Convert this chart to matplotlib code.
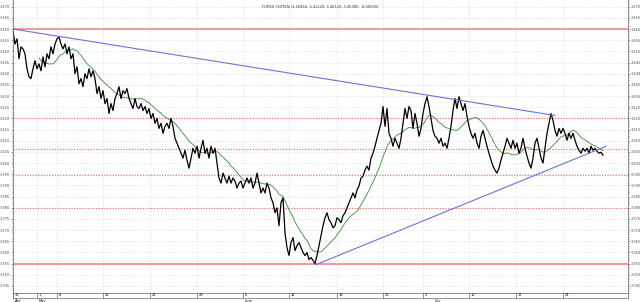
import numpy as np
import pandas as pd
import matplotlib
matplotlib.use('Agg')
import matplotlib.pyplot as plt
from matplotlib.ticker import MultipleLocator

# close prices, one bar per 2 px of the original chart
close = [
    3.459, 3.4533, 3.4556, 3.4467, 3.452, 3.4511, 3.4489, 3.4422, 3.4386, 3.4378,
    3.4422, 3.4458, 3.4422, 3.4444, 3.4413, 3.4475, 3.4431, 3.4489, 3.4467, 3.452,
    3.4489, 3.4533, 3.4556, 3.4564, 3.4533, 3.4511, 3.4533, 3.4489, 3.452, 3.4467,
    3.4489, 3.440, 3.4431, 3.4355, 3.4378, 3.4342, 3.440, 3.4378, 3.4422, 3.4386,
    3.4413, 3.4378, 3.4311, 3.4342, 3.4289, 3.4324, 3.4266, 3.4289, 3.4222, 3.4266,
    3.4235, 3.4289, 3.4311, 3.4342, 3.4289, 3.4324, 3.4311, 3.4333, 3.4289, 3.4266,
    3.4244, 3.4289, 3.4253, 3.4244, 3.4266, 3.4235, 3.4253, 3.4222, 3.4244, 3.420,
    3.4222, 3.4178, 3.420, 3.4155, 3.4178, 3.4133, 3.4164, 3.4178, 3.4155, 3.420,
    3.4164, 3.4111, 3.4089, 3.4066, 3.4044, 3.4022, 3.4057, 3.4013, 3.3977, 3.4022,
    3.4066, 3.4044, 3.4075, 3.4022, 3.4066, 3.4102, 3.4044, 3.4066, 3.4022, 3.4075,
    3.4044, 3.4066, 3.400, 3.3933, 3.391, 3.3955, 3.3933, 3.391, 3.3941, 3.391,
    3.3933, 3.3919, 3.3888, 3.391, 3.3919, 3.3888, 3.391, 3.3933, 3.391, 3.3933,
    3.3888, 3.391, 3.3955, 3.391, 3.3866, 3.3888, 3.3866, 3.391, 3.3888, 3.3844,
    3.3822, 3.3777, 3.3799, 3.3719, 3.3822, 3.3844, 3.3688, 3.3621, 3.3586, 3.3644,
    3.3666, 3.3608, 3.363, 3.3644, 3.3621, 3.3599, 3.3586, 3.3599, 3.3568, 3.3577,
    3.3564, 3.355, 3.3586, 3.363, 3.3675, 3.3719, 3.3755, 3.3777, 3.3746, 3.3733,
    3.371, 3.3719, 3.3755, 3.3746, 3.3733, 3.3764, 3.3777, 3.3799, 3.3822, 3.3844,
    3.3866, 3.3844, 3.3879, 3.3897, 3.3933, 3.3941, 3.3968, 3.3986, 3.3968, 3.4022,
    3.4044, 3.4075, 3.4111, 3.4146, 3.4178, 3.4253, 3.4164, 3.4244, 3.4133, 3.4111,
    3.4075, 3.4111, 3.4089, 3.4066, 3.4111, 3.4178, 3.4244, 3.420, 3.4253, 3.4235,
    3.4155, 3.4222, 3.4178, 3.412, 3.4155, 3.4222, 3.4266, 3.4297, 3.4253, 3.420,
    3.4146, 3.412, 3.4111, 3.4089, 3.4111, 3.4075, 3.4089, 3.4066, 3.4111, 3.4164,
    3.4235, 3.4289, 3.4244, 3.4297, 3.4266, 3.4235, 3.4266, 3.4209, 3.4164, 3.4133,
    3.4111, 3.4133, 3.4089, 3.4066, 3.412, 3.4146, 3.4111, 3.4075, 3.4044, 3.4013,
    3.3986, 3.3968, 3.3955, 3.3977, 3.4013, 3.4044, 3.4075, 3.4111, 3.4089, 3.4066,
    3.4102, 3.4066, 3.4089, 3.4044, 3.4066, 3.4111, 3.4066, 3.4031, 3.400, 3.3977,
    3.4022, 3.4089, 3.4111, 3.4066, 3.4022, 3.400, 3.4066, 3.4133, 3.4178, 3.4222,
    3.4191, 3.4146, 3.412, 3.4155, 3.4133, 3.4155, 3.4133, 3.4102, 3.4133, 3.4111,
    3.4133, 3.4102, 3.4075, 3.4057, 3.4044, 3.4066, 3.4053, 3.4066, 3.4044, 3.4075,
    3.4057, 3.4066, 3.4053, 3.4044, 3.4048, 3.4035,
]

ma_window = 14

# trendlines: (bar, price) end points
upper_trend = [(0, 3.460), (271, 3.4213)]
lower_trend = [(151.5, 3.3545), (296.5, 3.4075)]

support_solid = [3.460, 3.355]
support_dotted = [3.420, 3.4065, 3.3945, 3.380]

tick_bars = [0, 12, 22, 45, 68.5, 92, 115, 138, 162, 185, 205, 228, 251.5, 275]
tick_labels = ['30', '1', '8', '15', '22', '29', '5', '12', '19', '26', '3', '10', '17', '24']
month_bars = [0, 12, 115, 210]
month_labels = ['Apr', 'May', 'June', 'July']

title = 'FOREX CHFPLN (3.40450, 3.41120, 3.40120, 3.40380, -0.00090)'

plt.rcParams['font.family'] = ['DejaVu Sans']

s = pd.Series(close)
ma = s.rolling(ma_window).mean()
x = np.arange(len(close))

fig = plt.figure(figsize=(6.4, 3.02), dpi=100)
ax = fig.add_axes([13 / 640, 9 / 302, 615 / 640, 293 / 302])

ax.set_xlim(0, 307.5)
ax.set_ylim(3.3418, 3.4730)

ax.yaxis.set_minor_locator(MultipleLocator(0.001))
ax.set_yticks(np.arange(3.345, 3.4705, 0.005))
ax.set_yticklabels(['%.3f' % v for v in np.arange(3.345, 3.4705, 0.005)])
ax.tick_params(axis='y', which='both', labelsize=2.6, length=1.5, width=0.4,
               pad=0.5, colors='#555555', right=True, labelright=True)
ax.tick_params(axis='y', which='minor', length=1)
ax.set_xticks(tick_bars)
ax.set_xticklabels([])
ax.tick_params(axis='x', length=0)
ax.grid(True, which='major', color='#d0d0d0', linestyle=':', linewidth=0.5)
for sp in ax.spines.values():
    sp.set_linewidth(0.5)
    sp.set_color('#666666')
ax.spines['top'].set_visible(False)

for v in support_solid:
    ax.axhline(v, color='#f49a9a', linewidth=1.5)
for v in support_dotted:
    ax.axhline(v, color='#f07878', linewidth=0.9, linestyle=(0, (1, 1.2)))

ax.plot(x, ma, color='#3a8a3a', linewidth=0.6)
ax.plot(x, close, color='black', linewidth=0.9)

for line in (upper_trend, lower_trend):
    ax.plot([p[0] for p in line], [p[1] for p in line], color='#7070d8', linewidth=0.8)

fig.text(0.5, 0.985, title, fontsize=2.6, ha='center', va='top', color='#333333')

# date strip under the chart
strip = fig.add_axes([13 / 640, 4 / 302, 615 / 640, 5 / 302])
strip.set_xlim(0, 307.5)
strip.set_ylim(0, 1)
strip.set_xticks([])
strip.set_yticks([])
for sp in strip.spines.values():
    sp.set_linewidth(0.5)
    sp.set_color('#666666')
for b, lab in zip(tick_bars, tick_labels):
    strip.axvline(b, color='#666666', linewidth=0.5)
    strip.text(b + 0.8, 0.5, lab, fontsize=2.6, va='center', ha='left')
for b, lab in zip(month_bars, month_labels):
    strip.text(b + 0.8, -0.2, lab, fontsize=2.6, va='top', ha='left')

fig.savefig('out.png', dpi=100)
